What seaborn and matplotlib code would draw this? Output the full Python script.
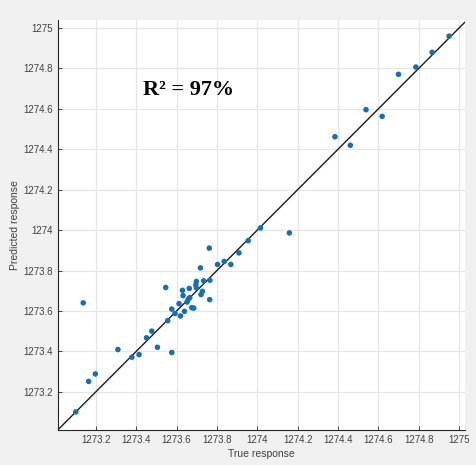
import matplotlib
matplotlib.use("Agg")
import matplotlib.pyplot as plt
import seaborn as sns
import pandas as pd

true_resp = [1273.10, 1273.137, 1273.164, 1273.197, 1273.309, 1273.378, 1273.414, 1273.451,
             1273.477, 1273.505, 1273.546, 1273.556, 1273.576, 1273.576, 1273.592, 1273.612,
             1273.619, 1273.629, 1273.632, 1273.639, 1273.652, 1273.658, 1273.663, 1273.665,
             1273.675, 1273.685, 1273.695, 1273.698, 1273.698, 1273.718, 1273.721, 1273.728,
             1273.734, 1273.762, 1273.765, 1273.764, 1273.803, 1273.836, 1273.869, 1273.909,
             1273.955, 1274.016, 1274.159, 1274.385, 1274.461, 1274.539, 1274.619, 1274.700,
             1274.786, 1274.867, 1274.951]
pred_resp = [1273.10, 1273.64, 1273.251, 1273.288, 1273.409, 1273.371, 1273.384, 1273.467,
             1273.50, 1273.42, 1273.716, 1273.552, 1273.394, 1273.609, 1273.587, 1273.636,
             1273.575, 1273.702, 1273.676, 1273.598, 1273.644, 1273.658, 1273.711, 1273.666,
             1273.616, 1273.614, 1273.729, 1273.746, 1273.714, 1273.813, 1273.681, 1273.697,
             1273.749, 1273.911, 1273.752, 1273.656, 1273.830, 1273.845, 1273.830, 1273.887,
             1273.948, 1274.011, 1273.986, 1274.462, 1274.420, 1274.596, 1274.563, 1274.771,
             1274.807, 1274.880, 1274.960]
tick_values = [1273.2, 1273.4, 1273.6, 1273.8, 1274.0, 1274.2, 1274.4, 1274.6, 1274.8, 1275.0]
tick_labels = ["1273.2", "1273.4", "1273.6", "1273.8", "1274", "1274.2", "1274.4", "1274.6", "1274.8", "1275"]

df = pd.DataFrame({"True response": true_resp, "Predicted response": pred_resp})

sns.set_style("white")
plt.rcParams['font.family'] = ['Liberation Sans', 'DejaVu Sans']

fig = plt.figure(figsize=(4.76, 4.65), dpi=100, facecolor="#f0f0f0")
ax = fig.add_axes([0.121, 0.075, 0.856, 0.882])
ax.set_facecolor("white")

ax.set_xlim(1273.01, 1275.03)
ax.set_ylim(1273.01, 1275.04)

ax.set_xticks(tick_values)
ax.set_xticklabels(tick_labels)
ax.set_yticks(tick_values)
ax.set_yticklabels(tick_labels)
ax.grid(True, color="#e6e6e6", linewidth=0.9)
ax.set_axisbelow(True)

ax.axline((1273.0, 1273.0), slope=1, color="#1a1a1a", linewidth=1.0, zorder=3)
sns.scatterplot(data=df, x="True response", y="Predicted response", ax=ax,
                color="#1670b0", s=16, edgecolor="none", zorder=4)

for s in ["top", "right"]:
    ax.spines[s].set_visible(False)
for s in ["left", "bottom"]:
    ax.spines[s].set_color("#262626")
    ax.spines[s].set_linewidth(0.8)

ax.tick_params(axis="both", direction="in", length=3, width=0.6, colors="#262626",
               labelsize=7, labelcolor="#404040", left=True, bottom=True)
ax.set_xlabel("True response", fontsize=7.5, color="#404040", labelpad=3)
ax.set_ylabel("Predicted response", fontsize=7.5, color="#404040", labelpad=2)

ax.text(1273.432, 1274.668, "R² = 97%", family="Liberation Serif", fontweight="bold",
        fontsize=16, color="black", va="baseline", ha="left")

fig.savefig("out.png", dpi=100, facecolor=fig.get_facecolor())
